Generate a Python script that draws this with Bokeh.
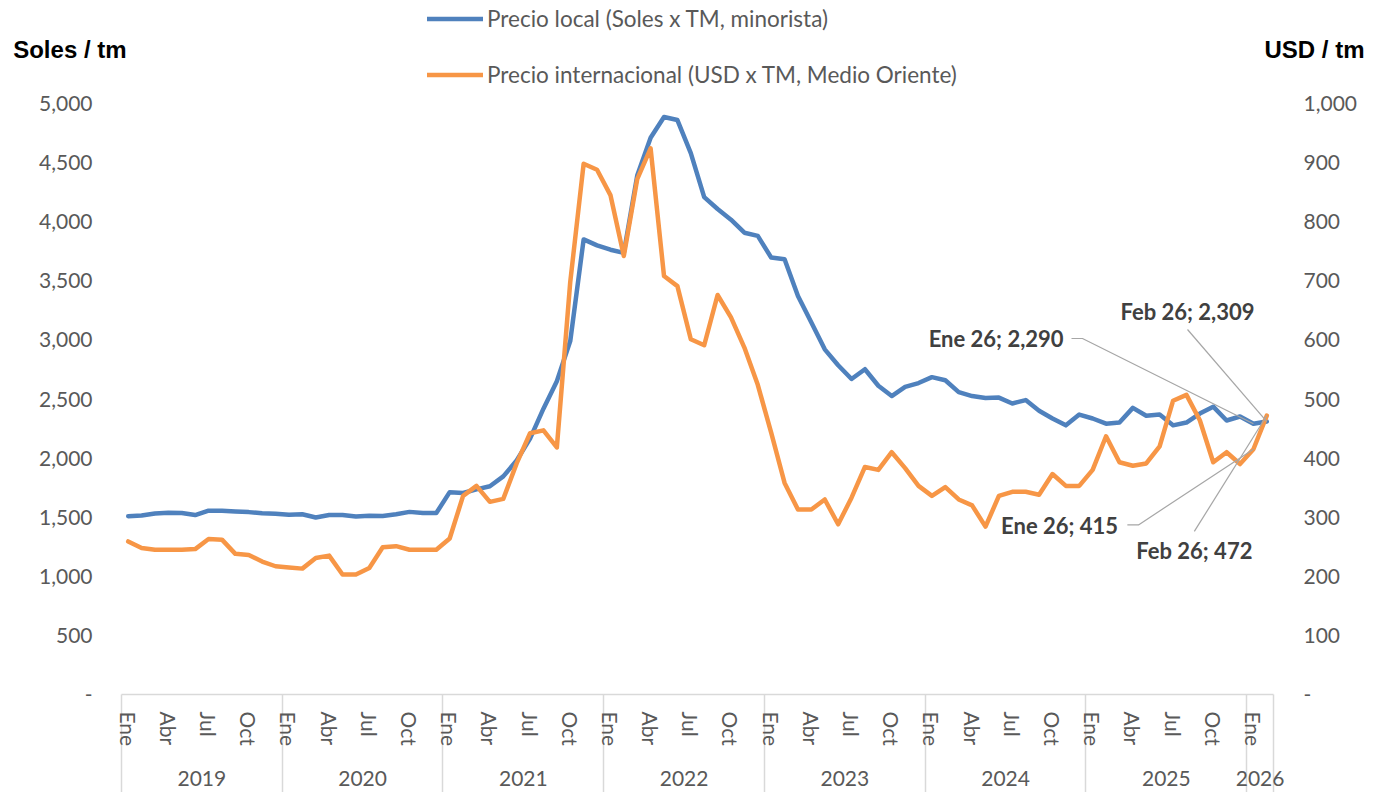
from bokeh.plotting import figure
from bokeh.models import Range1d, LinearAxis, FixedTicker, Legend, LegendItem, Label
from bokeh.embed import file_html
from bokeh.resources import INLINE

# ---------------- data ----------------
years = ["2019", "2020", "2021", "2022", "2023", "2024", "2025", "2026"]
month_names = ["Ene", "Feb", "Mar", "Abr", "May", "Jun", "Jul", "Ago", "Set", "Oct", "Nov", "Dic"]
shown_months = ["Ene", "Abr", "Jul", "Oct"]
months_2026 = ["Ene", "Feb"]

# Precio local (Soles x TM, minorista)
local_price = [
    1508, 1514, 1532, 1538, 1535, 1518, 1555, 1555, 1548, 1543, 1533, 1530,
    1520, 1525, 1498, 1518, 1518, 1505, 1512, 1510, 1525, 1545, 1535, 1535,
    1712, 1705, 1735, 1762, 1845, 1980, 2165, 2418, 2650, 2990, 3850, 3800,
    3763, 3736, 4390, 4710, 4886, 4860, 4580, 4208, 4107, 4017, 3907, 3880,
    3697, 3683, 3371, 3147, 2920, 2786, 2669, 2752, 2612, 2525, 2602, 2635,
    2685, 2659, 2558, 2525, 2508, 2512, 2462, 2491, 2401, 2335, 2277, 2368,
    2335, 2291, 2301, 2425, 2358, 2368, 2277, 2301, 2377, 2435, 2318, 2352,
    2290, 2309,
]
# Precio internacional (USD x TM, Medio Oriente)
intl_price = [
    259, 248, 245, 245, 245, 246, 263, 262, 238, 236, 225, 217,
    215, 213, 231, 235, 203, 203, 214, 249, 251, 245, 245, 245,
    264, 336, 353, 326, 331, 391, 442, 447, 418, 698, 898, 888,
    845, 742, 872, 924, 708, 691, 601, 591, 676, 638, 587, 524,
    443, 358, 313, 313, 330, 288, 333, 385, 380, 410, 383, 353,
    336, 351, 330, 320, 284, 336, 343, 343, 338, 373, 353, 353,
    380, 437, 393, 387, 391, 420, 497, 507, 464, 393, 410, 390,
    415, 472,
]

left_ticks = [0, 500, 1000, 1500, 2000, 2500, 3000, 3500, 4000, 4500, 5000]
left_tick_labels = ["-", "500", "1,000", "1,500", "2,000", "2,500", "3,000", "3,500", "4,000", "4,500", "5,000"]
right_ticks = [0, 100, 200, 300, 400, 500, 600, 700, 800, 900, 1000]
right_tick_labels = ["-", "100", "200", "300", "400", "500", "600", "700", "800", "900", "1,000"]

series_names = ["Precio local (Soles x TM, minorista)", "Precio internacional (USD x TM, Medio Oriente)"]
axis_titles = ["Soles / tm", "USD / tm"]

# ---------------- derived structure ----------------
month_of = []
year_of = []
for y in years:
    ms = months_2026 if y == "2026" else month_names
    for m in ms:
        month_of.append(m)
        year_of.append(y)
n = len(month_of)
xs = list(range(n))

month_ticks = [i for i, m in enumerate(month_of) if m in shown_months]
month_overrides = {i: month_of[i] for i in month_ticks}
year_edges = [i - 0.5 for i, m in enumerate(month_of) if m == "Ene"] + [n - 0.5]
year_centers = []
for y in years:
    idx = [i for i, yy in enumerate(year_of) if yy == y]
    year_centers.append(sum(idx) / len(idx))

BLUE = "#4F81BD"
ORANGE = "#F79646"
GRAY_TXT = "#595959"
SEP = "#D9D9D9"
FONT = "Lato"
LINE_W = 4.5

# ---------------- geometry (plot area inside a full-canvas frame) ----------------
W, H = 1376, 792
AREA_L, AREA_R, AREA_T, AREA_B = 121, 1273, 103, 694
ppm = (AREA_R - AREA_L) / n                       # pixels per month
ppl = (AREA_B - AREA_T) / left_ticks[-1]          # pixels per sol
ppr = (AREA_B - AREA_T) / right_ticks[-1]         # pixels per usd

x_lo, x_hi = -0.5, n - 0.5
p = figure(width=W, height=H,
           x_range=Range1d(x_lo - AREA_L / ppm, x_hi + (W - AREA_R) / ppm),
           y_range=Range1d(-(H - AREA_B) / ppl, left_ticks[-1] + AREA_T / ppl),
           x_axis_location=None, y_axis_location=None,
           toolbar_location=None, output_backend="svg",
           min_border_left=0, min_border_right=0, min_border_top=0, min_border_bottom=0)
p.extra_y_ranges = {"usd": Range1d(-(H - AREA_B) / ppr, right_ticks[-1] + AREA_T / ppr)}
p.outline_line_color = None
p.grid.visible = False

# left axis
ya = LinearAxis(fixed_location=x_lo, bounds=(0, left_ticks[-1]), ticker=FixedTicker(ticks=left_ticks),
                major_label_overrides=dict(zip(left_ticks, left_tick_labels)),
                axis_line_color=None, major_tick_line_color=None, minor_tick_line_color=None,
                major_tick_out=0, major_tick_in=0, minor_tick_out=0, minor_tick_in=0,
                major_label_standoff=29,
                major_label_text_font=FONT, major_label_text_font_size="21px",
                major_label_text_color=GRAY_TXT)
p.add_layout(ya, "left")

# right axis
ra = LinearAxis(fixed_location=x_hi, y_range_name="usd", bounds=(0, right_ticks[-1]),
                ticker=FixedTicker(ticks=right_ticks),
                major_label_overrides=dict(zip(right_ticks, right_tick_labels)),
                axis_line_color=None, major_tick_line_color=None, minor_tick_line_color=None,
                major_tick_out=0, major_tick_in=0, minor_tick_out=0, minor_tick_in=0,
                major_label_standoff=30,
                major_label_text_font=FONT, major_label_text_font_size="21px",
                major_label_text_color=GRAY_TXT)
p.add_layout(ra, "right")

# bottom axis: months, with year separators as long minor ticks
SEP_LEN = H - AREA_B
xa = LinearAxis(fixed_location=0, bounds=(x_lo, x_hi),
                ticker=FixedTicker(ticks=month_ticks, minor_ticks=year_edges),
                major_label_overrides=month_overrides, major_label_orientation="vertical",
                axis_line_color=SEP, axis_line_width=1.5,
                major_tick_line_color=None, major_tick_out=0, major_tick_in=0,
                minor_tick_in=0, minor_tick_out=SEP_LEN,
                minor_tick_line_color=SEP, minor_tick_line_width=1.5,
                major_label_standoff=17 - SEP_LEN,
                major_label_text_font=FONT, major_label_text_font_size="21px",
                major_label_text_color=GRAY_TXT)
p.add_layout(xa, "below")

# year labels
for cx, y in zip(year_centers, years):
    p.add_layout(Label(x=cx, y=-84 / ppl, text=y, text_align="center", text_baseline="middle",
                       text_font=FONT, text_font_size="21px", text_color=GRAY_TXT))

# series
r_local = p.line(xs, local_price, line_color=BLUE, line_width=LINE_W, line_join="round", line_cap="round")
r_intl = p.line(xs, intl_price, line_color=ORANGE, line_width=LINE_W, line_join="round", line_cap="round",
                y_range_name="usd")

# data labels with leader lines
LEADER = "#A6A6A6"
DL_COLOR = "#404040"
last, prev = n - 1, n - 2

def dlabel(text, x, y, align, rng="default"):
    p.add_layout(Label(x=x, y=y, text=text, text_align=align, text_baseline="middle",
                       text_font=FONT, text_font_size="22px", text_font_style="bold",
                       text_color=DL_COLOR, y_range_name=rng))

dlabel(f"Ene 26; {local_price[prev]:,}", prev - 14.17, local_price[prev] + 722, "right")
p.line([prev - 13.58, prev - 12.76, prev], [local_price[prev] + 722, local_price[prev] + 722, local_price[prev]],
       line_color=LEADER, line_width=1.2)
dlabel(f"Feb 26; {local_price[last]:,}", last - 5.92, local_price[last] + 931, "center")
p.line([last - 5.92, last], [local_price[last] + 779, local_price[last]], line_color=LEADER, line_width=1.2)
dlabel(f"Ene 26; {intl_price[prev]:,}", prev - 10.1, intl_price[prev] - 129, "right", "usd")
p.line([prev - 9.41, prev - 8.58, prev], [intl_price[prev] - 128, intl_price[prev] - 128, intl_price[prev]],
       line_color=LEADER, line_width=1.2, y_range_name="usd")
dlabel(f"Feb 26; {intl_price[last]:,}", last - 5.41, intl_price[last] - 229, "center", "usd")
p.line([last - 5.41, last], [intl_price[last] - 196, intl_price[last]], line_color=LEADER, line_width=1.2,
       y_range_name="usd")

# axis titles
title_y = left_ticks[-1] + (AREA_T - 48.5) / ppl
p.add_layout(Label(x=x_lo - (AREA_L - 12.7) / ppm, y=title_y, text=axis_titles[0],
                   text_align="left", text_baseline="middle",
                   text_font="Liberation Sans", text_font_size="24px", text_font_style="bold",
                   text_color="black"))
p.add_layout(Label(x=x_hi + (1364 - AREA_R) / ppm, y=title_y, text=axis_titles[1],
                   text_align="right", text_baseline="middle",
                   text_font="Liberation Sans", text_font_size="24px", text_font_style="bold",
                   text_color="black"))

# legend (location = bottom-left corner of legend, measured from the frame's bottom-left)
legend = Legend(items=[LegendItem(label=series_names[0], renderers=[r_local]),
                       LegendItem(label=series_names[1], renderers=[r_intl])],
                location=(427, H - 88), orientation="vertical",
                glyph_width=56, glyph_height=25, label_height=25, label_standoff=4,
                spacing=29, padding=0, margin=0,
                border_line_color=None, background_fill_alpha=0,
                label_text_font=FONT, label_text_font_size="22.5px", label_text_color=GRAY_TXT)
p.add_layout(legend)

open("out.html", "w").write(file_html(p, INLINE))
